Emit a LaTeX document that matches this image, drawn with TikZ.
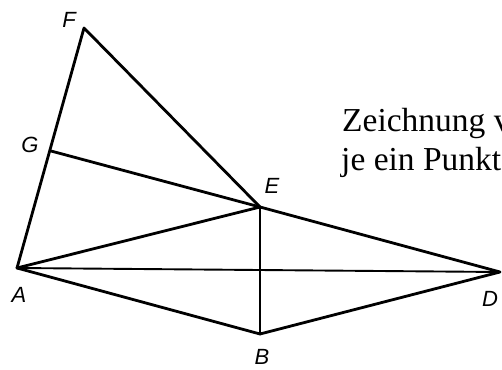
\documentclass[tikz,border=0pt]{standalone}
\usepackage{fontspec}
\setmainfont{Liberation Serif}
\newfontfamily\lblfont{Liberation Sans}
\begin{document}
\begin{tikzpicture}[x=1pt,y=1pt,
  seg/.style={line width=2.8pt, line cap=round, line join=round},
  thinseg/.style={line width=1.9pt, line cap=round},
  lbl/.style={font=\lblfont\itshape\fontsize{22}{22}\selectfont, inner sep=0pt},
  txt/.style={font=\fontsize{33.5}{38}\selectfont, inner sep=0pt, anchor=base west}]
\useasboundingbox (0,0) rectangle (502,369);
\coordinate (F) at (84,341);
\coordinate (G) at (51,218);
\coordinate (A) at (17,101);
\coordinate (E) at (260,162);
\coordinate (D) at (500,97);
\coordinate (B) at (260,35);
\draw[seg] (A) -- (F) -- (E);
\draw[seg] (G) -- (E);
\draw[seg] (A) -- (E);
\draw[seg] (A) -- (B) -- (D) -- (E);
\draw[thinseg] (A) -- (D);
\draw[seg] (E) -- (B);
\node[lbl] (lF) at (69,349) {F};
\node[lbl] (lG) at (30,224) {G};
\node[lbl] (lA) at (19,74) {A};
\node[lbl] (lE) at (272,183) {E};
\node[lbl] (lD) at (490,70) {D};
\node[lbl] (lB) at (262,12) {B};
\node[txt] (t1) at (342,237) {Zeichnung v};
\node[txt] (t2) at (341,198) {je ein Punkt};
\end{tikzpicture}
\end{document}
